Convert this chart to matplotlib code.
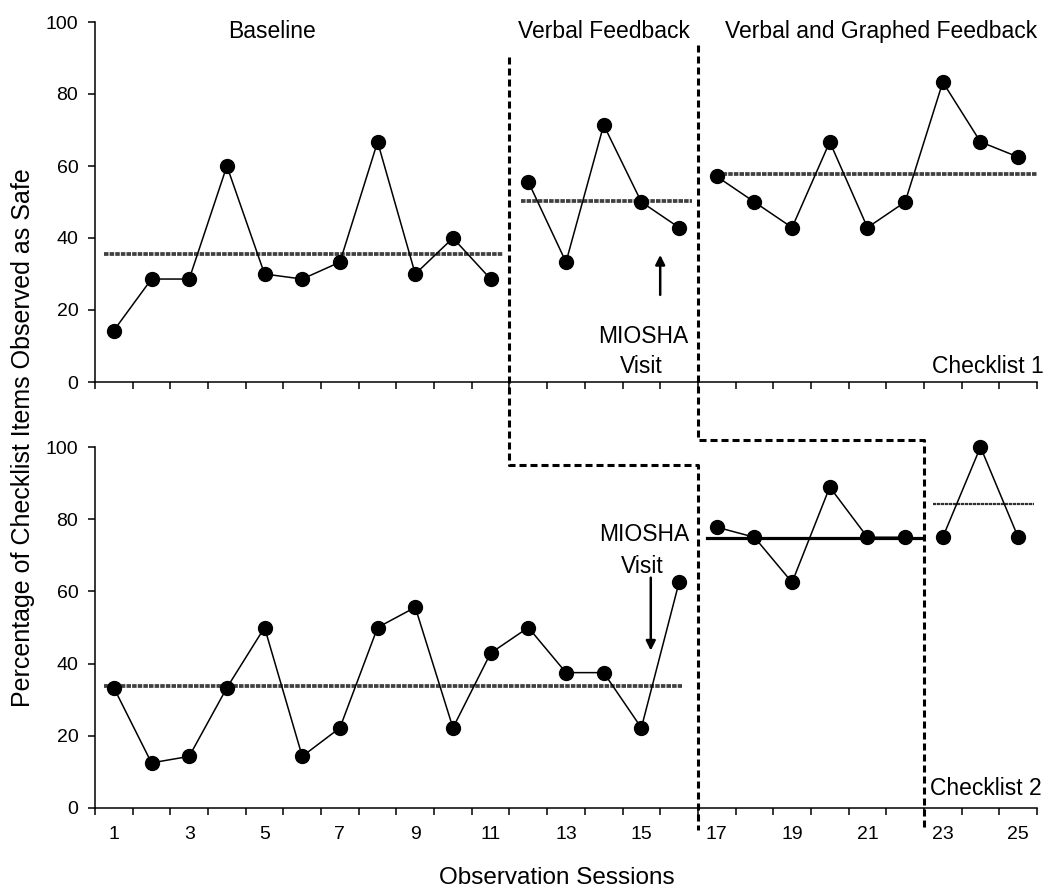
import numpy as np
import matplotlib
matplotlib.use("Agg")
import matplotlib.pyplot as plt
import matplotlib.transforms as mtransforms
from matplotlib.lines import Line2D

plt.rcParams['font.family'] = ['Liberation Sans', 'DejaVu Sans']

# ---- data ----
# Checklist 1 (top panel)
c1_base_x = [1, 2, 3, 4, 5, 6, 7, 8, 9, 10, 11]
c1_base_y = [14.3, 28.6, 28.6, 60.0, 30.0, 28.6, 33.3, 66.7, 30.0, 40.0, 28.6]
c1_verbal_x = [12, 13, 14, 15, 16]
c1_verbal_y = [55.6, 33.3, 71.4, 50.0, 42.9]
c1_graphed_x = [17, 18, 19, 20, 21, 22, 23, 24, 25]
c1_graphed_y = [57.1, 50.0, 42.9, 66.7, 42.9, 50.0, 83.3, 66.7, 62.5]

# Checklist 2 (bottom panel)
c2_base_x = [1, 2, 3, 4, 5, 6, 7, 8, 9, 10, 11, 12, 13, 14, 15, 16]
c2_base_y = [33.3, 12.5, 14.3, 33.3, 50.0, 14.3, 22.2, 50.0, 55.6, 22.2,
             42.9, 50.0, 37.5, 37.5, 22.2, 62.5]
c2_verbal_x = [17, 18, 19, 20, 21, 22]
c2_verbal_y = [77.8, 75.0, 62.5, 88.9, 75.0, 75.0]
c2_graphed_x = [23, 24, 25]
c2_graphed_y = [75.0, 100.0, 75.0]

# phase means (level, start, end)
c1_means = [(35.6, 0.74, 11.33), (50.3, 11.8, 16.34), (57.7, 17.02, 25.53)]
c2_means = [(33.7, 0.74, 16.08), (74.9, 16.73, 22.42), (84.3, 22.74, 25.42)]

odd_ticks = np.arange(1, 26, 2)
y_ticks = [0, 20, 40, 60, 80, 100]

W, H = 1050, 893
fig = plt.figure(figsize=(W / 100, H / 100), dpi=100)
ax1 = fig.add_axes([95 / W, 1 - 382 / H, (1037 - 95) / W, 360 / H])
ax2 = fig.add_axes([95 / W, 1 - 808 / H, (1037 - 95) / W, 361 / H], sharex=ax1)

mean_style = dict(color='#404040', lw=2.7, linestyle=(0, (1.2, 0.3)), zorder=2)
line_style = dict(color='black', lw=1.1, marker='o', ms=10, zorder=3, clip_on=False)

for ax in (ax1, ax2):
    ax.set_xlim(0.5, 25.5)
    ax.set_ylim(0, 100)
    ax.spines['top'].set_visible(False)
    ax.spines['right'].set_visible(False)
    ax.spines['left'].set_linewidth(1.1)
    ax.spines['bottom'].set_linewidth(1.1)
    ax.set_yticks(y_ticks)
    ax.set_xticks(np.arange(0.5, 25.6, 1.0))
    ax.tick_params(axis='x', which='major', length=5, width=1.1, labelbottom=False)
    ax.tick_params(axis='y', length=5, width=1.1, labelsize=14, pad=7)
    ax.set_xticks(odd_ticks, minor=True)
    ax.tick_params(axis='x', which='minor', length=0, labelsize=14, pad=13)

ax1.tick_params(axis='x', which='minor', labelbottom=False)
ax2.set_xticklabels([str(t) for t in odd_ticks], minor=True)

# data series
ax1.plot(c1_base_x, c1_base_y, **line_style)
ax1.plot(c1_verbal_x, c1_verbal_y, **line_style)
ax1.plot(c1_graphed_x, c1_graphed_y, **line_style)
ax2.plot(c2_base_x, c2_base_y, **line_style)
ax2.plot(c2_verbal_x, c2_verbal_y, **line_style)
ax2.plot(c2_graphed_x, c2_graphed_y, **line_style)

for lvl, x0, x1 in c1_means:
    ax1.plot([x0, x1], [lvl, lvl], **mean_style)
ax2.plot([c2_means[0][1], c2_means[0][2]], [c2_means[0][0]] * 2, **mean_style)
ax2.plot([c2_means[1][1], c2_means[1][2]], [c2_means[1][0]] * 2,
         color='black', lw=2.3, zorder=2)
ax2.plot([c2_means[2][1], c2_means[2][2]], [c2_means[2][0]] * 2,
         color='#303030', lw=1.6, linestyle=(0, (1.5, 0.3)), zorder=2)

# phase change lines (x in data, y in figure fraction)
tr = mtransforms.blended_transform_factory(ax2.transData, fig.transFigure)
dash = (0, (2.3, 1.3))
phase_a_x = [11.5, 11.5, 16.5, 16.5]
phase_a_y = [1 - 57 / H, 1 - 465 / H, 1 - 465 / H, 1 - 830 / H]
phase_b_x = [16.5, 16.5, 22.5, 22.5]
phase_b_y = [1 - 45 / H, 1 - 440 / H, 1 - 440 / H, 1 - 830 / H]
for xs, ys in ((phase_a_x, phase_a_y), (phase_b_x, phase_b_y)):
    fig.add_artist(Line2D(xs, ys, transform=tr, color='black', lw=2.2,
                          linestyle=dash, clip_on=False))

# phase titles
fs = 16.5
ax1.text(5.2, 95.6, 'Baseline', ha='center', va='baseline', fontsize=fs)
ax1.text(14.02, 95.6, 'Verbal Feedback', ha='center', va='baseline', fontsize=fs)
ax1.text(21.36, 95.6, 'Verbal and Graphed Feedback', ha='center', va='baseline',
         fontsize=fs, clip_on=False)

# MIOSHA annotations
ax1.text(15.04, 10.8, 'MIOSHA', ha='center', va='baseline', fontsize=fs)
ax1.text(15.0, 2.5, 'Visit', ha='center', va='baseline', fontsize=fs)
ax1.annotate('', xy=(15.5, 35.3), xytext=(15.5, 24.2),
             arrowprops=dict(arrowstyle='-|>', lw=1.8, color='black',
                             mutation_scale=14, shrinkA=0, shrinkB=0))
ax2.text(15.07, 74.0, 'MIOSHA', ha='center', va='baseline', fontsize=fs)
ax2.text(15.03, 65.2, 'Visit', ha='center', va='baseline', fontsize=fs)
ax2.annotate('', xy=(15.25, 43.6), xytext=(15.25, 63.8),
             arrowprops=dict(arrowstyle='-|>', lw=1.8, color='black',
                             mutation_scale=14, shrinkA=0, shrinkB=0))

ax1.text(25.69, 2.5, 'Checklist 1', ha='right', va='baseline', fontsize=fs,
         clip_on=False)
ax2.text(22.66, 3.5, 'Checklist 2', ha='left', va='baseline', fontsize=fs,
         clip_on=False)

fig.text(0.022, 0.51, 'Percentage of Checklist Items Observed as Safe',
         rotation=90, ha='center', va='center', fontsize=18)
fig.text(0.530, 0.017, 'Observation Sessions', ha='center', va='center',
         fontsize=17.5)

fig.savefig('out.png', dpi=100)
